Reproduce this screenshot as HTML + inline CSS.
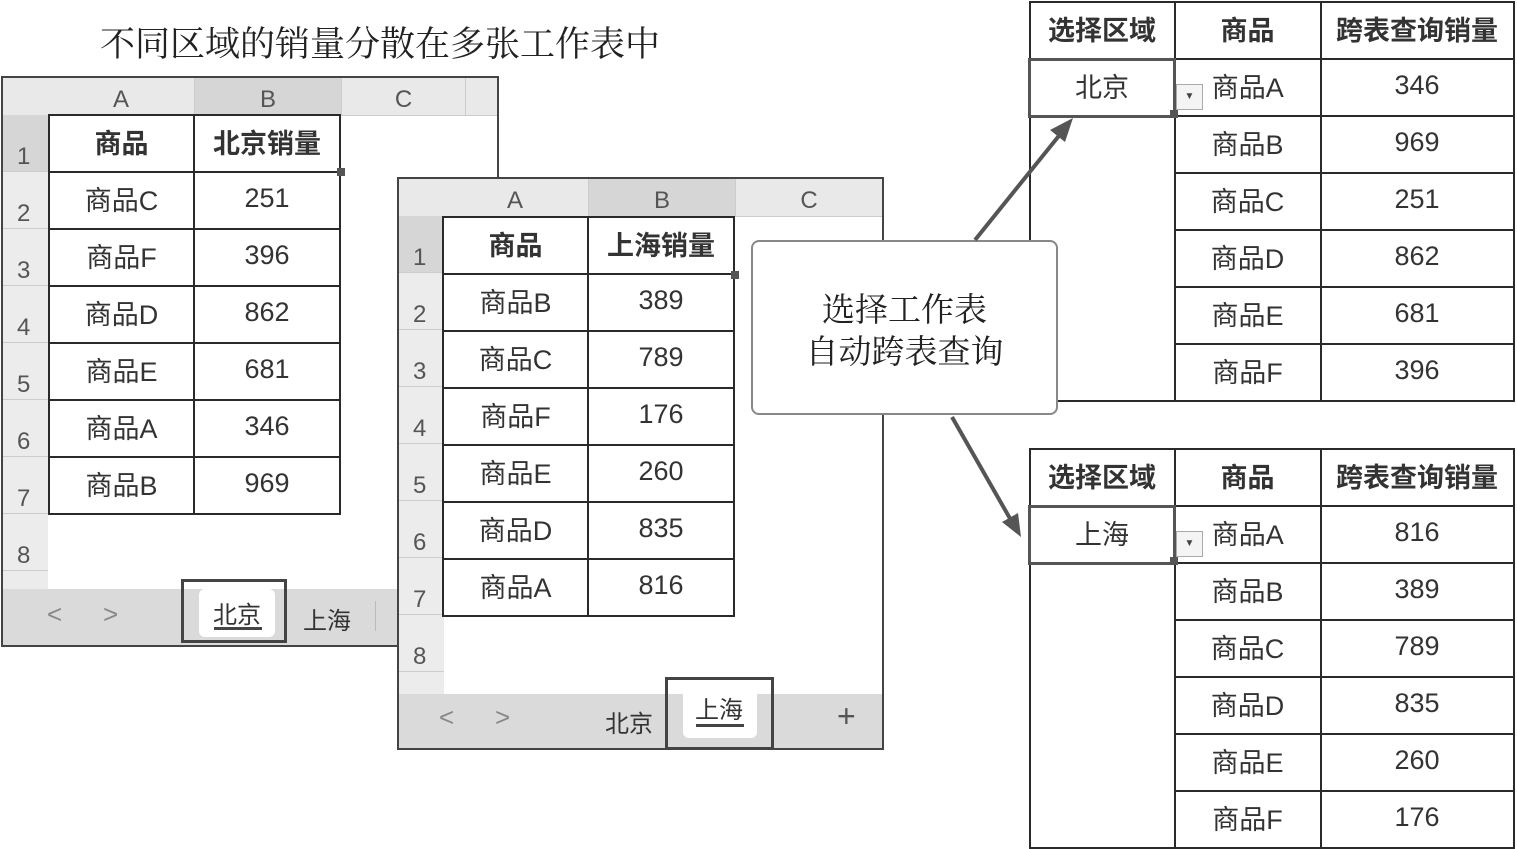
<!DOCTYPE html>
<html><head><meta charset="utf-8"><style>
body{margin:0;width:1517px;height:848px;background:#fff;position:relative;overflow:hidden;font-family:"Liberation Sans","Noto Sans CJK SC",sans-serif;color:#333}
.a{position:absolute}
.sheet{position:absolute;border:2px solid #444;background:#fff;box-sizing:border-box;overflow:hidden}
.hdr{position:absolute;left:0;top:0;right:0;height:37px;background:#e9e9e9;border-bottom:1px solid #ccc}
.hc{position:absolute;top:0;height:37px;line-height:44px;text-align:center;font-size:24px;color:#555;border-right:1px solid #ccc}
.rn{position:absolute;left:0;width:45px;background:#ececec;border-bottom:1px solid #ccc;font-size:24px;color:#555;box-sizing:border-box;padding-left:14px}
table.g{position:absolute;border-collapse:collapse}
table.g td{border:2px solid #2a2a2a;text-align:center;font-size:27px;padding:0 0 4px 0;color:#333}
table.g tr:first-child td{font-weight:bold}
.bar{position:absolute;left:0;right:0;bottom:0;background:#dadada}
.ser{font-family:"Liberation Serif","Noto Serif CJK SC",serif}
</style></head><body>

<div class="a ser" style="left:100px;top:17px;font-size:35px;color:#222">不同区域的销量分散在多张工作表中</div>

<!-- Left sheet -->
<div class="sheet" style="left:1px;top:76px;width:498px;height:571px">
  <div class="hdr"></div>
  <div class="hc" style="left:45px;width:146px">A</div>
  <div class="hc" style="left:192px;width:146px;background:#d6d6d6">B</div>
  <div class="hc" style="left:339px;width:123px">C</div>
  <div class="rn" style="top:37px;height:57px;line-height:84px;background:#d6d6d6">1</div>
  <div class="rn" style="top:94px;height:57px;line-height:84px">2</div>
  <div class="rn" style="top:151px;height:57px;line-height:84px">3</div>
  <div class="rn" style="top:208px;height:57px;line-height:84px">4</div>
  <div class="rn" style="top:265px;height:57px;line-height:84px">5</div>
  <div class="rn" style="top:322px;height:57px;line-height:84px">6</div>
  <div class="rn" style="top:379px;height:57px;line-height:84px">7</div>
  <div class="rn" style="top:436px;height:57px;line-height:84px">8</div>
  <div class="rn" style="top:493px;height:20px"></div>
  <table class="g" style="left:45px;top:36px">
   <tr style="height:57px"><td style="width:143px">商品</td><td style="width:144px">北京销量</td></tr>
   <tr style="height:57px"><td>商品C</td><td>251</td></tr>
   <tr style="height:57px"><td>商品F</td><td>396</td></tr>
   <tr style="height:57px"><td>商品D</td><td>862</td></tr>
   <tr style="height:57px"><td>商品E</td><td>681</td></tr>
   <tr style="height:57px"><td>商品A</td><td>346</td></tr>
   <tr style="height:57px"><td>商品B</td><td>969</td></tr>
  </table>
  <div class="a" style="left:334px;top:90px;width:8px;height:8px;background:#555"></div>
  <div class="bar" style="height:56px">
    <div class="a" style="left:44px;top:10px;font-size:26px;color:#888">&lt;</div>
    <div class="a" style="left:100px;top:10px;font-size:26px;color:#888">&gt;</div>
    <div class="a" style="left:178px;top:-10px;width:106px;height:64px;border:3px solid #444;box-sizing:border-box"></div>
    <div class="a" style="left:196px;top:0;width:76px;height:48px;background:#fff;border-radius:6px"></div>
    <div class="a" style="left:210px;top:6px;font-size:24px">北京</div>
    <div class="a" style="left:211px;top:38px;width:48px;height:3px;background:#444"></div>
    <div class="a" style="left:300px;top:12px;font-size:24px">上海</div>
    <div class="a" style="left:372px;top:12px;width:1px;height:30px;background:#bbb"></div>
  </div>
</div>

<!-- Middle sheet -->
<div class="sheet" style="left:397px;top:177px;width:487px;height:573px">
  <div class="hdr"></div>
  <div class="hc" style="left:43px;width:146px">A</div>
  <div class="hc" style="left:190px;width:146px;background:#d6d6d6">B</div>
  <div class="hc" style="left:337px;width:146px">C</div>
  <div class="rn" style="top:37px;height:57px;line-height:84px;background:#d6d6d6">1</div>
  <div class="rn" style="top:94px;height:57px;line-height:84px">2</div>
  <div class="rn" style="top:151px;height:57px;line-height:84px">3</div>
  <div class="rn" style="top:208px;height:57px;line-height:84px">4</div>
  <div class="rn" style="top:265px;height:57px;line-height:84px">5</div>
  <div class="rn" style="top:322px;height:57px;line-height:84px">6</div>
  <div class="rn" style="top:379px;height:57px;line-height:84px">7</div>
  <div class="rn" style="top:436px;height:57px;line-height:84px">8</div>
  <div class="rn" style="top:493px;height:30px"></div>
  <table class="g" style="left:43px;top:37px">
   <tr style="height:57px"><td style="width:143px">商品</td><td style="width:144px">上海销量</td></tr>
   <tr style="height:57px"><td>商品B</td><td>389</td></tr>
   <tr style="height:57px"><td>商品C</td><td>789</td></tr>
   <tr style="height:57px"><td>商品F</td><td>176</td></tr>
   <tr style="height:57px"><td>商品E</td><td>260</td></tr>
   <tr style="height:57px"><td>商品D</td><td>835</td></tr>
   <tr style="height:57px"><td>商品A</td><td>816</td></tr>
  </table>
  <div class="a" style="left:332px;top:92px;width:8px;height:8px;background:#555"></div>
  <div class="bar" style="height:54px">
    <div class="a" style="left:40px;top:8px;font-size:26px;color:#888">&lt;</div>
    <div class="a" style="left:96px;top:8px;font-size:26px;color:#888">&gt;</div>
    <div class="a" style="left:206px;top:10px;font-size:24px">北京</div>
    <div class="a" style="left:266px;top:-17px;width:109px;height:73px;border:3px solid #444;box-sizing:border-box"></div>
    <div class="a" style="left:284px;top:-8px;width:74px;height:52px;background:#fff;border-radius:6px"></div>
    <div class="a" style="left:296px;top:-4px;font-size:24px">上海</div>
    <div class="a" style="left:297px;top:30px;width:48px;height:3px;background:#444"></div>
    <div class="a" style="left:438px;top:4px;font-size:32px;color:#555">+</div>
  </div>
</div>

<!-- Right top -->
<table class="g" style="left:1028px;top:1px;background:#fff">
 <tr style="height:57px"><td style="width:143px">选择区域</td><td style="width:144px">商品</td><td style="width:191px">跨表查询销量</td></tr>
 <tr style="height:57px"><td style="font-weight:normal;border:3px solid #555">北京</td><td>商品A</td><td>346</td></tr>
 <tr style="height:57px"><td rowspan="5"></td><td>商品B</td><td>969</td></tr>
 <tr style="height:57px"><td>商品C</td><td>251</td></tr>
 <tr style="height:57px"><td>商品D</td><td>862</td></tr>
 <tr style="height:57px"><td>商品E</td><td>681</td></tr>
 <tr style="height:57px"><td>商品F</td><td>396</td></tr>
</table>
<div class="a" style="left:1176px;top:84px;width:25px;height:24px;border:1px solid #aaa;background:#f4f4f4;font-size:10px;text-align:center;line-height:24px;color:#444">▼</div>
<div class="a" style="left:1170px;top:110px;width:8px;height:8px;background:#555"></div>

<!-- Right bottom -->
<table class="g" style="left:1028px;top:448px;background:#fff">
 <tr style="height:57px"><td style="width:143px">选择区域</td><td style="width:144px">商品</td><td style="width:191px">跨表查询销量</td></tr>
 <tr style="height:57px"><td style="font-weight:normal;border:3px solid #555">上海</td><td>商品A</td><td>816</td></tr>
 <tr style="height:57px"><td rowspan="5"></td><td>商品B</td><td>389</td></tr>
 <tr style="height:57px"><td>商品C</td><td>789</td></tr>
 <tr style="height:57px"><td>商品D</td><td>835</td></tr>
 <tr style="height:57px"><td>商品E</td><td>260</td></tr>
 <tr style="height:57px"><td>商品F</td><td>176</td></tr>
</table>
<div class="a" style="left:1176px;top:531px;width:25px;height:24px;border:1px solid #aaa;background:#f4f4f4;font-size:10px;text-align:center;line-height:24px;color:#444">▼</div>
<div class="a" style="left:1170px;top:557px;width:8px;height:8px;background:#555"></div>

<!-- Callout -->
<div class="a ser" style="z-index:5;left:751px;top:240px;width:307px;height:175px;border:2px solid #888;border-radius:8px;box-sizing:border-box;background:#fff;text-align:center;font-size:33px;line-height:42px;padding-top:48px;color:#222">选择工作表<br>自动跨表查询</div>

<svg class="a" style="left:0;top:0;z-index:6" width="1517" height="848">
 <line x1="975" y1="240" x2="1062" y2="132" stroke="#555" stroke-width="4"/>
 <polygon points="1073,118 1050,130 1065,142" fill="#555"/>
 <line x1="952" y1="417" x2="1012" y2="522" stroke="#555" stroke-width="4"/>
 <polygon points="1021,537 1002,522 1018,513" fill="#555"/>
</svg>

</body></html>
